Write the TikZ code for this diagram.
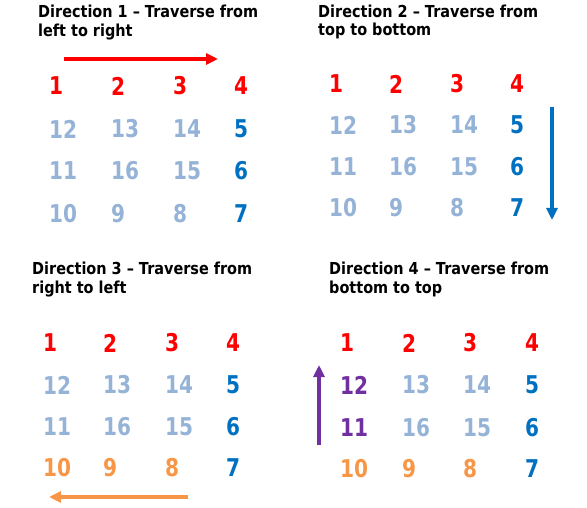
\documentclass[tikz,border=0pt]{standalone}
\usepackage{fontspec}
\setmainfont{DejaVu Sans}
\newfontfamily\titlefont[FakeStretch=0.875]{DejaVu Sans Bold}
\newfontfamily\numfont[FakeStretch=0.82]{DejaVu Sans Bold}
\usetikzlibrary{arrows.meta}
\definecolor{cred}{HTML}{FF0000}
\definecolor{clight}{HTML}{95B3D7}
\definecolor{cblue}{HTML}{0070C0}
\definecolor{corange}{HTML}{F79646}
\definecolor{cpurple}{HTML}{7030A0}
\tikzset{
  ttl/.style={anchor=base west,inner sep=0pt,font=\titlefont\fontsize{16.5}{20}\selectfont},
  num/.style={anchor=west,inner sep=0pt,font=\numfont\fontsize{24.5}{28}\selectfont},
  arr/.style={line width=3.5pt,-{Triangle[length=12pt,width=11pt]}}
}
\begin{document}
\begin{tikzpicture}[x=1pt,y=-1pt]
\useasboundingbox (0,0) rectangle (587,508);
% ---------- Panel 1 ----------
\node[ttl] (t1a) at (38,18) {Direction 1 – Traverse from};
\node[ttl] (t1b) at (38,37) {left to right};
\coordinate (r1s) at (64,59);
\coordinate (r1e) at (218,59);
\draw[arr,cred] (r1s) -- (r1e);
\foreach \x/\y/\t/\c [count=\i] in {
 49/86/1/cred,111/86/2/cred,173/86/3/cred,234/86/4/cred,
 49/129/12/clight,111/129/13/clight,173/129/14/clight,234/129/5/cblue,
 49/171/11/clight,111/171/16/clight,173/171/15/clight,234/171/6/cblue,
 49/214/10/clight,111/214/9/clight,173/214/8/clight,234/214/7/cblue}
 \node[num,text=\c] (a\i) at (\x,\y) {\t};
% ---------- Panel 2 ----------
\node[ttl] (t2a) at (318,18) {Direction 2 – Traverse from};
\node[ttl] (t2b) at (318,36) {top to bottom};
\coordinate (b2s) at (552,107);
\coordinate (b2e) at (552,220);
\draw[arr,cblue] (b2s) -- (b2e);
\foreach \x/\y/\t/\c [count=\i] in {
 329/84/1/cred,389/84/2/cred,450/84/3/cred,510/84/4/cred,
 329/125/12/clight,389/125/13/clight,450/125/14/clight,510/125/5/cblue,
 329/167/11/clight,389/167/16/clight,450/167/15/clight,510/167/6/cblue,
 329/208/10/clight,389/208/9/clight,450/208/8/clight,510/208/7/cblue}
 \node[num,text=\c] (b\i) at (\x,\y) {\t};
% ---------- Panel 3 ----------
\node[ttl] (t3a) at (32,275) {Direction 3 – Traverse from};
\node[ttl] (t3b) at (32,294) {right to left};
\coordinate (o3s) at (188,497);
\coordinate (o3e) at (49,497);
\draw[arr,corange] (o3s) -- (o3e);
\foreach \x/\y/\t/\c [count=\i] in {
 43/343/1/cred,103/343/2/cred,165/343/3/cred,226/343/4/cred,
 43/385/12/clight,103/385/13/clight,165/385/14/clight,226/385/5/cblue,
 43/427/11/clight,103/427/16/clight,165/427/15/clight,226/427/6/cblue,
 43/468/10/corange,103/468/9/corange,165/468/8/corange,226/468/7/cblue}
 \node[num,text=\c] (c\i) at (\x,\y) {\t};
% ---------- Panel 4 ----------
\node[ttl] (t4a) at (329,275) {Direction 4 – Traverse from};
\node[ttl] (t4b) at (329,294) {bottom to top};
\coordinate (p4s) at (319,445);
\coordinate (p4e) at (319,365);
\draw[arr,cpurple] (p4s) -- (p4e);
\foreach \x/\y/\t/\c [count=\i] in {
 340/343/1/cred,402/343/2/cred,463/343/3/cred,525/343/4/cred,
 340/385/12/cpurple,402/385/13/clight,463/385/14/clight,525/385/5/cblue,
 340/428/11/cpurple,402/428/16/clight,463/428/15/clight,525/428/6/cblue,
 340/469/10/corange,402/469/9/corange,463/469/8/corange,525/469/7/cblue}
 \node[num,text=\c] (d\i) at (\x,\y) {\t};
\end{tikzpicture}
\end{document}
